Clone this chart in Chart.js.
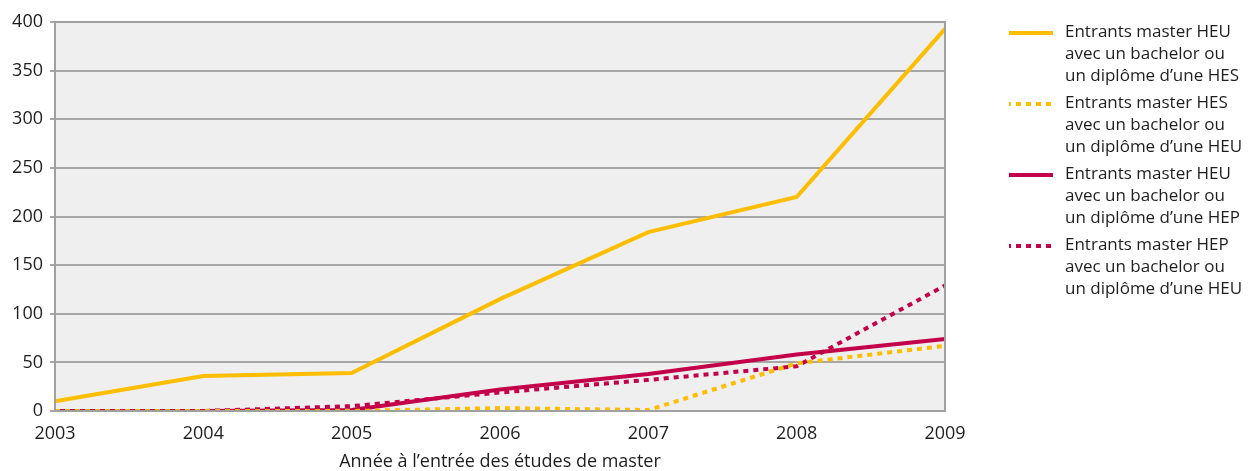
<!DOCTYPE html>
<html>
<head>
<meta charset="utf-8">
<script src="https://cdn.jsdelivr.net/npm/chart.js@4"></script>
<style>
  html, body { margin: 0; padding: 0; background: #fff; }
  #wrap { position: relative; width: 1248px; height: 471px; }
  #legend { position: absolute; left: 1009px; top: 20px; font-family: "Open Sans", sans-serif; font-size: 17px; color: #1e1e1e; }
  .item { display: flex; align-items: flex-start; margin-bottom: 5px; }
  .swatch { margin-top: 10px; margin-right: 12px; }
  .txt { line-height: 22px; }
</style>
</head>
<body>
<div id="wrap">
  <canvas id="chart" width="1248" height="471"></canvas>
  <div id="legend"></div>
</div>
<script>
// années
const years = ['2003', '2004', '2005', '2006', '2007', '2008', '2009'];

const heuFromHes = [10, 36, 39, 115, 184, 220, 393];
const hesFromHeu = [0, 0, 0, 3, 1, 49, 67];
const heuFromHep = [0, 0, 1, 22, 38, 58, 74];
const hepFromHeu = [0, 0, 5, 19, 32, 46, 129];

const seriesLabels = [
    ['Entrants master HEU', 'avec un bachelor ou', 'un diplôme d\u2019une HES'],
    ['Entrants master HES', 'avec un bachelor ou', 'un diplôme d\u2019une HEU'],
    ['Entrants master HEU', 'avec un bachelor ou', 'un diplôme d\u2019une HEP'],
    ['Entrants master HEP', 'avec un bachelor ou', 'un diplôme d\u2019une HEU']
];

const yellow = '#fdbd00';
const red = '#c4004a';
const fontFam = '"Open Sans"';

// fond gris + cadre
const plotBg = {
    id: 'plotBg',
    beforeDraw(chart) {
        const a = chart.chartArea, ctx = chart.ctx;
        ctx.save();
        ctx.fillStyle = '#efefef';
        ctx.fillRect(a.left, a.top, a.right - a.left, a.bottom - a.top);
        ctx.restore();
    },
    afterDatasetsDraw(chart) {
        const a = chart.chartArea, ctx = chart.ctx;
        ctx.save();
        ctx.strokeStyle = '#a0a0a0';
        ctx.lineWidth = 2;
        ctx.strokeRect(a.left, a.top, a.right - a.left, a.bottom - a.top);
        ctx.restore();
    }
};

const datasets = [
    { label: seriesLabels[0].join(' '), data: heuFromHes, borderColor: yellow, borderDash: [] },
    { label: seriesLabels[1].join(' '), data: hesFromHeu, borderColor: yellow, borderDash: [5, 5] },
    { label: seriesLabels[2].join(' '), data: heuFromHep, borderColor: red, borderDash: [] },
    { label: seriesLabels[3].join(' '), data: hepFromHeu, borderColor: red, borderDash: [5, 5] }
].map((d, i) => Object.assign(d, {
    borderWidth: 4,
    pointRadius: 0,
    fill: false,
    tension: 0,
    borderCapStyle: 'butt',
    order: i + 1
}));

new Chart(document.getElementById('chart'), {
    type: 'line',
    data: { labels: years, datasets: datasets },
    options: {
        responsive: false,
        animation: false,
        layout: { padding: { left: 0, right: 303, top: 22, bottom: 0 } },
        plugins: { legend: { display: false }, tooltip: { enabled: false } },
        scales: {
            x: {
                offset: false,
                grid: { display: false, drawTicks: false },
                border: { display: false },
                ticks: { color: '#1e1e1e', font: { family: fontFam, size: 18 }, padding: 12, maxRotation: 0 },
                title: {
                    display: true,
                    text: 'Année à l\u2019entrée des études de master',
                    color: '#1e1e1e',
                    font: { family: fontFam, size: 18, lineHeight: 1 },
                    padding: { top: 4, bottom: 0 }
                },
                afterFit(scale) { scale.height = 60; }
            },
            y: {
                min: 0,
                max: 400,
                ticks: { stepSize: 50, color: '#1e1e1e', font: { family: fontFam, size: 18 }, padding: 7 },
                grid: { color: '#a6a6a6', lineWidth: 2, drawTicks: true, tickLength: 5 },
                border: { display: false },
                afterFit(scale) { scale.width = 55; }
            }
        }
    },
    plugins: [plotBg]
});

// légende HTML avec échantillons de trait
const legend = document.getElementById('legend');
datasets.forEach((d, i) => {
    const item = document.createElement('div');
    item.className = 'item';
    const sw = document.createElement('canvas');
    sw.className = 'swatch';
    sw.width = 44;
    sw.height = 6;
    const c = sw.getContext('2d');
    c.strokeStyle = d.borderColor;
    c.lineWidth = 4;
    c.setLineDash(d.borderDash);
    c.lineDashOffset = d.borderDash.length ? 3 : 0;
    c.beginPath();
    c.moveTo(0, 3);
    c.lineTo(44, 3);
    c.stroke();
    const t = document.createElement('div');
    t.className = 'txt';
    t.innerHTML = seriesLabels[i].join('<br>');
    item.appendChild(sw);
    item.appendChild(t);
    legend.appendChild(item);
});
</script>
</body>
</html>
